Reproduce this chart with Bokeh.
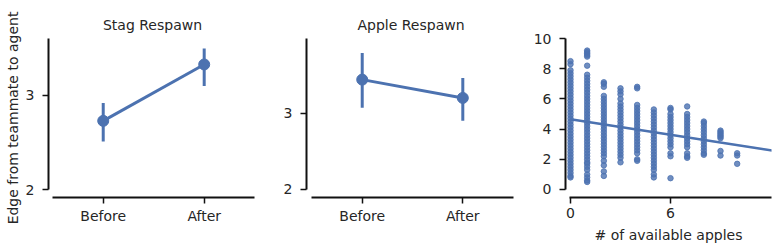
from bokeh.plotting import figure
from bokeh.layouts import row
from bokeh.models import FixedTicker, Range1d
from bokeh.embed import file_html
from bokeh.resources import INLINE

# ---------------- data ----------------
conditions = ["Before", "After"]

stag_mean = [2.73, 3.33]
stag_lo = [2.51, 3.10]
stag_hi = [2.92, 3.50]

apple_mean = [3.44, 3.20]
apple_lo = [3.07, 2.90]
apple_hi = [3.79, 3.46]

avail_0 = [8.5, 8.3, 7.9, 7.7, 7.5, 7.3, 7.1, 6.9, 6.7, 6.5, 6.3, 6.1, 5.9, 5.7, 5.5, 5.3, 5.1, 4.9,
           4.7, 4.5, 4.3, 4.1, 3.9, 3.7, 3.5, 3.3, 3.1, 2.9, 2.7, 2.5, 2.3, 2.1, 1.9, 1.7, 1.5, 1.3,
           1.1, 0.9, 0.8]
avail_1 = [9.2, 9.1, 9.0, 8.9, 8.8, 8.2, 7.6, 7.4, 7.2, 7.0, 6.8, 6.6, 6.4, 6.2, 6.0, 5.8, 5.6, 5.4,
           5.2, 5.0, 4.8, 4.6, 4.4, 4.2, 4.0, 3.8, 3.6, 3.4, 3.2, 3.0, 2.8, 2.6, 2.4, 2.2, 2.0, 1.8,
           1.7, 1.5, 1.3, 1.0, 0.8, 0.6, 0.5]
avail_2 = [7.1, 7.0, 6.8, 6.2, 6.0, 5.8, 5.6, 5.4, 5.2, 5.0, 4.8, 4.6, 4.4, 4.2, 4.0, 3.8, 3.6, 3.4,
           3.2, 3.0, 2.8, 2.6, 2.4, 2.2, 1.9, 1.6, 1.2, 0.9]
avail_3 = [6.7, 6.5, 6.3, 6.0, 5.7, 5.5, 5.3, 5.1, 4.9, 4.7, 4.5, 4.3, 4.1, 3.9, 3.7, 3.5, 3.3, 3.1,
           2.9, 2.7, 2.5, 2.3, 2.1, 1.8]
avail_4 = [6.8, 6.7, 5.6, 5.4, 5.2, 5.0, 4.8, 4.6, 4.4, 4.2, 4.0, 3.8, 3.6, 3.4, 3.2, 3.0, 2.8, 2.6,
           2.4, 2.0, 1.9]
avail_5 = [5.3, 5.1, 4.9, 4.7, 4.5, 4.3, 4.1, 3.9, 3.7, 3.5, 3.3, 3.1, 2.9, 2.7, 2.5, 2.3, 2.1, 1.9,
           1.7, 1.5, 1.3, 1.0, 0.8]
avail_6 = [5.4, 5.3, 5.0, 4.8, 4.6, 4.4, 4.2, 4.0, 3.8, 3.6, 3.4, 3.2, 3.0, 2.8, 2.4, 2.2, 0.75]
avail_7 = [5.5, 5.0, 4.8, 4.6, 4.4, 4.2, 4.0, 3.8, 3.6, 3.4, 3.2, 3.0, 2.8, 2.4, 2.2, 2.1]
avail_8 = [4.5, 4.4, 4.2, 4.0, 3.8, 3.6, 3.4, 3.2, 3.0, 2.8, 2.6, 2.4, 2.3]
avail_9 = [3.9, 3.8, 3.7, 3.6, 3.5, 3.4, 2.55, 2.25]
avail_10 = [2.4, 2.25, 1.7]
edge_by_apples = [avail_0, avail_1, avail_2, avail_3, avail_4, avail_5, avail_6, avail_7,
                  avail_8, avail_9, avail_10]

fit_intercept = 4.65
fit_slope = -0.171
fit_x = [0, 12.5]

# ---------------- style ----------------
BLUE = "#4C72B0"
TXT = "#262626"
FONT = "DejaVu Sans"
FS = "14px"


def make_fig(frame_w, xr, yr, title, left, right):
    p = figure(frame_width=frame_w, frame_height=159, x_range=xr, y_range=yr,
               output_backend="svg", toolbar_location=None, title=title,
               min_border_left=left, min_border_right=right, min_border_top=38,
               min_border_bottom=53)
    p.outline_line_color = None
    p.xgrid.visible = False
    p.ygrid.visible = False
    p.background_fill_color = "white"
    p.border_fill_color = "white"
    p.title.align = "center"
    p.title.text_font = FONT
    p.title.text_font_size = FS
    p.title.text_font_style = "normal"
    p.title.text_color = TXT
    p.title.standoff = 12
    for ax in (p.xaxis[0], p.yaxis[0]):
        ax.axis_line_width = 2
        ax.axis_line_color = "#111111"
        ax.major_tick_line_width = 1.5
        ax.major_tick_line_color = "#111111"
        ax.major_tick_out = 6
        ax.major_tick_in = 0
        ax.minor_tick_out = 0
        ax.minor_tick_in = 0
        ax.major_label_text_font = FONT
        ax.major_label_text_font_size = FS
        ax.major_label_text_color = TXT
        ax.axis_label_text_font = FONT
        ax.axis_label_text_font_size = FS
        ax.axis_label_text_font_style = "normal"
        ax.axis_label_text_color = TXT
    p.yaxis[0].major_label_standoff = 8
    p.xaxis[0].major_label_standoff = 4
    return p


def point_panel(p, mean, lo, hi):
    xs = list(range(len(conditions)))
    p.line(xs, mean, line_color=BLUE, line_width=3)
    p.segment(x0=xs, y0=lo, x1=xs, y1=hi, line_color=BLUE, line_width=3)
    p.scatter(xs, mean, size=11, fill_color=BLUE, line_color=BLUE)
    p.xaxis[0].ticker = FixedTicker(ticks=xs)
    p.xaxis[0].major_label_overrides = {i: c for i, c in enumerate(conditions)}
    p.xaxis[0].bounds = (-0.5, 1.5)


# panel 1
p1 = make_fig(208, Range1d(-0.542, 1.518), Range1d(1.915, 3.606), "Stag Respawn", 48, 10)
point_panel(p1, stag_mean, stag_lo, stag_hi)
p1.yaxis[0].ticker = FixedTicker(ticks=[2, 3])
p1.yaxis[0].bounds = (2, 3.606)
p1.yaxis[0].axis_label = "Edge from teammate to agent"
p1.yaxis[0].axis_label_standoff = 2

# panel 2
p2 = make_fig(209, Range1d(-0.554, 1.524), Range1d(1.895, 3.979), "Apple Respawn", 40, 10)
point_panel(p2, apple_mean, apple_lo, apple_hi)
p2.yaxis[0].ticker = FixedTicker(ticks=[2, 3])
p2.yaxis[0].bounds = (2, 3.979)

# panel 3
p3 = make_fig(206, Range1d(-0.3, 12.06), Range1d(-0.53, 10.0), " ", 40, 6)
xs_pts, ys_pts = [], []
for k, col in enumerate(edge_by_apples):
    xs_pts.extend([k] * len(col))
    ys_pts.extend(col)
p3.scatter(xs_pts, ys_pts, size=5.5, fill_color=BLUE, line_color=BLUE, fill_alpha=0.8,
           line_alpha=0.8)
fit_y = [fit_intercept + fit_slope * x for x in fit_x]
band_lo = [y - 0.06 for y in fit_y]
band_hi = [y + 0.06 for y in fit_y]
p3.varea(x=fit_x, y1=band_lo, y2=band_hi, fill_color=BLUE, fill_alpha=0.15)
p3.line(fit_x, fit_y, line_color=BLUE, line_width=2.5)
p3.xaxis[0].ticker = FixedTicker(ticks=[0, 6])
p3.xaxis[0].bounds = (-0.06, 12.06)
p3.yaxis[0].ticker = FixedTicker(ticks=[0, 2, 4, 6, 8, 10])
p3.yaxis[0].bounds = (0, 10)
p3.xaxis[0].axis_label = "# of available apples"
p3.xaxis[0].axis_label_standoff = 6

layout = row(p1, p2, p3)
open("out.html", "w").write(file_html(layout, INLINE))
